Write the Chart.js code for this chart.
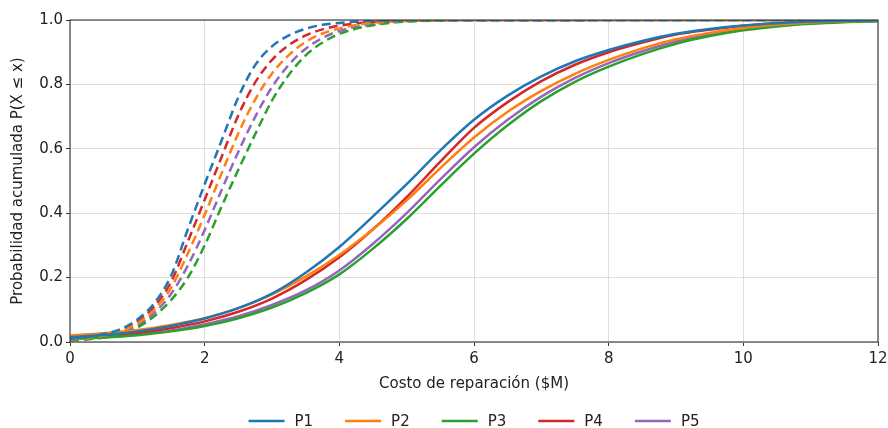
<!DOCTYPE html>
<html>
<head>
<meta charset="utf-8">
<script src="https://cdn.jsdelivr.net/npm/chart.js@4.4.1/dist/chart.umd.min.js"></script>
<style>
  html, body { margin: 0; padding: 0; background: #fff; }
  #wrap { width: 888px; height: 428px; }
</style>
</head>
<body>
<div id="wrap"><canvas id="cdf"></canvas></div>
<script>
// series names and colours (matplotlib tab10)
const seriesNames = ['P1', 'P2', 'P3', 'P4', 'P5'];
const seriesColors = ['#1f77b4', '#ff7f0e', '#2ca02c', '#d62728', '#9467bd'];

// solid curves, every 0.5
const solidX = [0, 0.5, 1, 1.5, 2, 2.5, 3, 3.5, 4, 4.5, 5, 5.5, 6, 6.5, 7, 7.5, 8, 8.5, 9, 9.5, 10, 10.5, 11, 11.5, 12];
const solidP1 = [0.015, 0.022, 0.033, 0.05, 0.073, 0.105, 0.15, 0.215, 0.295, 0.39, 0.49, 0.595, 0.69, 0.765, 0.825, 0.872, 0.907, 0.935, 0.957, 0.972, 0.983, 0.99, 0.995, 0.998, 0.999];
const solidP2 = [0.02, 0.027, 0.037, 0.053, 0.074, 0.105, 0.148, 0.203, 0.27, 0.35, 0.44, 0.54, 0.635, 0.715, 0.78, 0.833, 0.876, 0.912, 0.94, 0.96, 0.975, 0.985, 0.992, 0.996, 0.998];
const solidP3 = [0.01, 0.014, 0.021, 0.033, 0.05, 0.074, 0.107, 0.152, 0.21, 0.29, 0.382, 0.485, 0.585, 0.673, 0.748, 0.808, 0.855, 0.894, 0.926, 0.95, 0.968, 0.98, 0.988, 0.993, 0.996];
const solidP4 = [0.012, 0.018, 0.028, 0.043, 0.064, 0.094, 0.135, 0.192, 0.263, 0.35, 0.45, 0.56, 0.665, 0.745, 0.81, 0.861, 0.9, 0.93, 0.955, 0.97, 0.982, 0.99, 0.995, 0.998, 0.999];
const solidP5 = [0.01, 0.015, 0.023, 0.035, 0.055, 0.08, 0.115, 0.16, 0.222, 0.305, 0.4, 0.505, 0.605, 0.69, 0.762, 0.82, 0.866, 0.903, 0.933, 0.955, 0.972, 0.983, 0.99, 0.995, 0.997];

// dashed curves
const dashedX = [0, 0.25, 0.5, 0.75, 1, 1.25, 1.5, 1.75, 2, 2.25, 2.5, 2.75, 3, 3.25, 3.5, 3.75, 4, 4.5, 5, 6, 12];
const dashedP1 = [0.01, 0.015, 0.025, 0.04, 0.07, 0.12, 0.205, 0.35, 0.49, 0.625, 0.76, 0.86, 0.918, 0.952, 0.973, 0.985, 0.991, 0.997, 0.999, 1, 1];
const dashedP2 = [0.008, 0.012, 0.02, 0.033, 0.058, 0.1, 0.168, 0.275, 0.395, 0.523, 0.648, 0.753, 0.834, 0.891, 0.932, 0.958, 0.974, 0.991, 0.997, 1, 1];
const dashedP3 = [0.005, 0.008, 0.014, 0.025, 0.045, 0.08, 0.13, 0.2, 0.3, 0.42, 0.535, 0.645, 0.75, 0.83, 0.89, 0.93, 0.957, 0.984, 0.995, 0.999, 1];
const dashedP4 = [0.009, 0.013, 0.022, 0.036, 0.064, 0.11, 0.186, 0.312, 0.442, 0.574, 0.704, 0.806, 0.876, 0.922, 0.952, 0.971, 0.982, 0.994, 0.998, 1, 1];
const dashedP5 = [0.006, 0.01, 0.017, 0.029, 0.051, 0.09, 0.149, 0.237, 0.348, 0.471, 0.591, 0.699, 0.792, 0.861, 0.911, 0.944, 0.966, 0.987, 0.996, 0.999, 1];

const xTicks = [0, 2, 4, 6, 8, 10, 12];
const yTicks = [0, 0.2, 0.4, 0.6, 0.8, 1.0];

const solidSets = [solidP1, solidP2, solidP3, solidP4, solidP5];
const dashedSets = [dashedP1, dashedP2, dashedP3, dashedP4, dashedP5];

const font = '"DejaVu Sans", sans-serif';
const fontSize = 15;

function toPoints(xs, ys) {
    return xs.map((x, i) => ({ x: x, y: ys[i] }));
}

const datasets = [];
seriesNames.forEach((name, i) => {
    datasets.push({
        label: name,
        data: toPoints(solidX, solidSets[i]),
        borderColor: seriesColors[i],
        backgroundColor: seriesColors[i],
        borderWidth: 2.5,
        pointRadius: 0,
        cubicInterpolationMode: 'monotone',
        fill: false
    });
    datasets.push({
        label: name + ' (dashed)',
        isDashed: true,
        data: toPoints(dashedX, dashedSets[i]),
        borderColor: seriesColors[i],
        backgroundColor: seriesColors[i],
        borderWidth: 2.5,
        borderDash: [9, 5],
        pointRadius: 0,
        cubicInterpolationMode: 'monotone',
        fill: false
    });
});

// frame on all four sides, drawn over the lines like matplotlib spines
const frame = {
    id: 'frame',
    afterDatasetsDraw(chart) {
        const a = chart.chartArea;
        const ctx = chart.ctx;
        ctx.save();
        ctx.strokeStyle = '#333';
        ctx.lineWidth = 1.1;
        ctx.strokeRect(a.left, a.top, a.right - a.left, a.bottom - a.top);
        ctx.restore();
    }
};

// legend row under the axis title
const bottomLegend = {
    id: 'bottomLegend',
    afterDraw(chart) {
        const ctx = chart.ctx;
        const items = chart.data.datasets.filter(d => !d.isDashed);
        const lineLen = 36, textGap = 10, itemGap = 32;
        ctx.save();
        ctx.font = fontSize + 'px ' + font;
        const widths = items.map(d => lineLen + textGap + ctx.measureText(d.label).width);
        const total = widths.reduce((s, w) => s + w, 0) + itemGap * (items.length - 1);
        const a = chart.chartArea;
        let x = (a.left + a.right) / 2 - total / 2;
        const y = 421;
        items.forEach((d, i) => {
            ctx.strokeStyle = d.borderColor;
            ctx.lineWidth = 2.5;
            ctx.beginPath();
            ctx.moveTo(x, y);
            ctx.lineTo(x + lineLen, y);
            ctx.stroke();
            ctx.fillStyle = '#222';
            ctx.textBaseline = 'middle';
            ctx.fillText(d.label, x + lineLen + textGap, y + 1);
            x += widths[i] + itemGap;
        });
        ctx.restore();
    }
};

new Chart(document.getElementById('cdf'), {
    type: 'line',
    data: { datasets: datasets },
    plugins: [frame, bottomLegend],
    options: {
        responsive: true,
        maintainAspectRatio: false,
        animation: false,
        devicePixelRatio: 1,
        layout: { padding: { top: 20, right: 10, bottom: 33, left: 0 } },
        plugins: {
            legend: { display: false },
            tooltip: { enabled: false }
        },
        scales: {
            x: {
                type: 'linear',
                min: 0,
                max: 12,
                afterBuildTicks: scale => { scale.ticks = xTicks.map(v => ({ value: v })); },
                afterFit: scale => {
                    scale.height = 53;
                    scale.paddingLeft = 0;
                    scale.paddingRight = 0;
                },
                border: { display: false },
                grid: { color: '#dedede', tickColor: '#333', tickLength: 4 },
                ticks: { color: '#222', font: { family: font, size: fontSize }, padding: 4 },
                title: {
                    display: true,
                    text: 'Costo de reparación ($M)',
                    color: '#222',
                    font: { family: font, size: fontSize },
                    padding: { top: 4, bottom: 2 }
                }
            },
            y: {
                min: 0,
                max: 1,
                afterBuildTicks: scale => { scale.ticks = yTicks.map(v => ({ value: v })); },
                afterFit: scale => { scale.width = 70; },
                border: { display: false },
                grid: { color: '#dedede', tickColor: '#333', tickLength: 4 },
                ticks: {
                    color: '#222',
                    font: { family: font, size: fontSize },
                    padding: 3,
                    callback: v => v.toFixed(1)
                },
                title: {
                    display: true,
                    text: 'Probabilidad acumulada P(X ≤ x)',
                    color: '#222',
                    font: { family: font, size: fontSize },
                    padding: { top: 9, bottom: 4 }
                }
            }
        }
    }
});
</script>
</body>
</html>
